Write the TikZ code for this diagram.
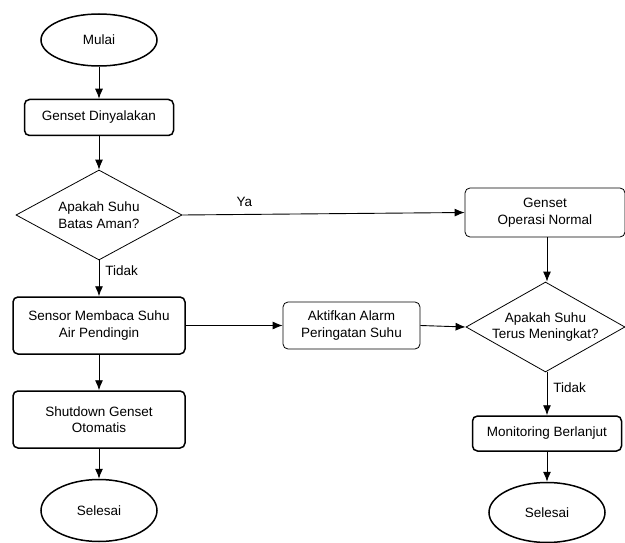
\documentclass[tikz,border=0pt]{standalone}
\usepackage{fontspec}
\setmainfont{Liberation Sans}
\usetikzlibrary{shapes.geometric,arrows.meta}
\begin{document}
\begin{tikzpicture}[x=1pt,y=-1pt,
  every node/.style={font=\fontsize{13.5}{16.5}\selectfont, align=center, inner sep=0pt},
  term/.style={ellipse, draw, line width=1.5pt, minimum width=116pt, minimum height=#1},
  thickbox/.style={rounded corners=5pt, draw, line width=1.5pt, minimum width=#1},
  thinbox/.style={rounded corners=5pt, draw, line width=0.8pt, minimum width=#1},
  dec/.style={diamond, draw, line width=0.8pt, aspect=1.8, minimum width=#1, minimum height=90pt},
  conn/.style={draw, line width=0.9pt, -{Latex[length=10pt,width=8pt]}},
  lbl/.style={font=\fontsize{13.5}{15}\selectfont}]
\useasboundingbox (0,0) rectangle (625,543);

\node[term=52pt] (mulai) at (99,40) {Mulai};
\node[thickbox=149pt, minimum height=36pt] (gen) at (99,117.5) {Genset Dinyalakan};
\node[dec=166pt] (d1) at (99,215) {Apakah Suhu\\Batas Aman?};
\node[thickbox=172pt, minimum height=57pt] (sensor) at (99,325.5) {Sensor Membaca Suhu\\Air Pendingin};
\node[thickbox=172pt, minimum height=57pt] (shut) at (99,419.5) {Shutdown Genset\\Otomatis};
\node[term=62pt] (sel1) at (99,510.5) {Selesai};

\node[thinbox=160pt, minimum height=49pt] (normal) at (545,212.5) {Genset\\Operasi Normal};
\node[thinbox=137pt, minimum height=47pt] (alarm) at (351.5,325.5) {Aktifkan Alarm\\Peringatan Suhu};
\node[dec=159pt] (d2) at (545.5,327) {Apakah Suhu\\Terus Meningkat?};
\node[thickbox=149pt, minimum height=35pt] (mon) at (547,433.5) {Monitoring Berlanjut};
\node[term=60pt] (sel2) at (547,512.5) {Selesai};

\draw[conn] (mulai) -- (gen);
\draw[conn] (gen) -- (d1);
\draw[conn] (d1.east) -- node[lbl, above=7pt, pos=0.22] (ya) {Ya} (normal.west);
\draw[conn] (d1.south) -- node[lbl, right=6pt, pos=0.3] (tidak1) {Tidak} (sensor.north);
\draw[conn] (sensor) -- (shut);
\draw[conn] (shut) -- (sel1);
\draw[conn] (sensor.east |- alarm.west) -- (alarm.west);
\draw[conn] (alarm.east) -- (d2.west);
\draw[conn] (normal.south -| mon.north) -- (d2.north -| mon.north);
\draw[conn] (d2.south -| mon.north) -- node[lbl, right=6pt, pos=0.35] (tidak2) {Tidak} (mon.north);
\draw[conn] (mon) -- (sel2);
\end{tikzpicture}
\end{document}
